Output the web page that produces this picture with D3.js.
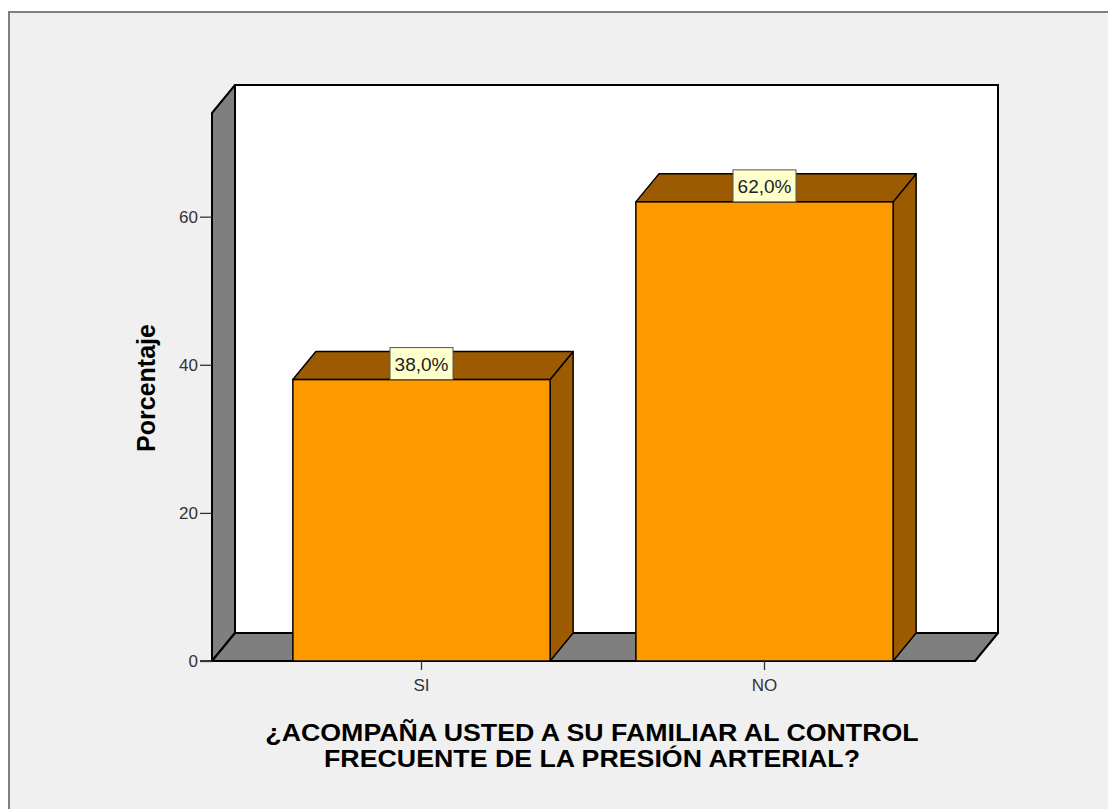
<!DOCTYPE html>
<html>
<head>
<meta charset="utf-8">
<script src="https://cdn.jsdelivr.net/npm/d3@7"></script>
<style>
  html, body { margin: 0; padding: 0; background: #ffffff; }
  svg { display: block; }
</style>
</head>
<body>
<svg id="chart" width="1108" height="809"></svg>
<script>
// Respuestas y porcentajes
const categories = ["SI", "NO"];
const percentages = [38.0, 62.0];
const yTicks = [0, 20, 40, 60];
const valueLabels = ["38,0%", "62,0%"];
const yTitle = "Porcentaje";
const xTitleLines = ["¿ACOMPAÑA USTED A SU FAMILIAR AL CONTROL", "FRECUENTE DE LA PRESIÓN ARTERIAL?"];

const svg = d3.select("#chart");
const W = 1108, H = 809;
const FONT = "Liberation Sans, Arial, sans-serif";

// depth offset of the 3D box
const DX = 23, DY = 28;

// frame
svg.append("rect").attr("x", 0).attr("y", 0).attr("width", W).attr("height", H).attr("fill", "#ffffff");
svg.append("rect").attr("x", 9).attr("y", 12).attr("width", W + 20).attr("height", H + 20)
  .attr("fill", "#f0f0f0").attr("stroke", "#7f7f7f").attr("stroke-width", 2);

const y = d3.scaleLinear().domain([0, 74]).range([661, 113]);
const x = d3.scaleBand().domain(categories).range([250, 936]).paddingInner(0.25).paddingOuter(0.125);

const left = 212, right = 975;
const y0 = y(0), yTop = y(74);

const wallFill = "#7f7f7f";
const stroke = "#000000";
const pts = arr => arr.map(p => p.join(",")).join(" ");

// back wall
svg.append("rect")
  .attr("x", left + DX).attr("y", yTop - DY)
  .attr("width", right - left).attr("height", y0 - yTop)
  .attr("fill", "#ffffff").attr("stroke", stroke).attr("stroke-width", 2);

// left wall
svg.append("polygon")
  .attr("points", pts([[left, yTop], [left + DX, yTop - DY], [left + DX, y0 - DY], [left, y0]]))
  .attr("fill", wallFill).attr("stroke", stroke).attr("stroke-width", 2).attr("stroke-linejoin", "round");

// floor
svg.append("polygon")
  .attr("points", pts([[left, y0], [left + DX, y0 - DY], [right + DX, y0 - DY], [right, y0]]))
  .attr("fill", wallFill).attr("stroke", stroke).attr("stroke-width", 2).attr("stroke-linejoin", "round");

// bars
const front = "#ff9900", dark = "#9c5b00";
const bars = svg.append("g").selectAll("g").data(categories).join("g");
bars.each(function(c, i) {
  const g = d3.select(this);
  const x0 = x(c), x1 = x(c) + x.bandwidth();
  const yt = y(percentages[i]);
  g.append("polygon")
    .attr("points", pts([[x1, yt], [x1 + DX, yt - DY], [x1 + DX, y0 - DY], [x1, y0]]))
    .attr("fill", dark).attr("stroke", stroke).attr("stroke-width", 1.5).attr("stroke-linejoin", "round");
  g.append("polygon")
    .attr("points", pts([[x0, yt], [x0 + DX, yt - DY], [x1 + DX, yt - DY], [x1, yt]]))
    .attr("fill", dark).attr("stroke", stroke).attr("stroke-width", 1.5).attr("stroke-linejoin", "round");
  g.append("rect")
    .attr("x", x0).attr("y", yt).attr("width", x1 - x0).attr("height", y0 - yt)
    .attr("fill", front).attr("stroke", stroke).attr("stroke-width", 1.5);
});

// value labels
bars.each(function(c, i) {
  const g = d3.select(this);
  const cx = x(c) + x.bandwidth() / 2;
  const yt = y(percentages[i]);
  const bw = 63, bh = 32;
  g.append("rect")
    .attr("x", cx - bw / 2).attr("y", yt - bh).attr("width", bw).attr("height", bh)
    .attr("fill", "#ffffcc").attr("stroke", "#555555").attr("stroke-width", 1);
  g.append("text")
    .attr("x", cx).attr("y", yt - bh / 2 + 7)
    .attr("text-anchor", "middle")
    .attr("font-family", FONT)
    .attr("font-size", 19).attr("fill", "#222222")
    .text(valueLabels[i]);
});

// y axis
const yAxis = d3.axisLeft(y).tickValues(yTicks).tickSize(12).tickPadding(2).tickFormat(d3.format("d"));
const yg = svg.append("g").attr("transform", `translate(${left},0)`).call(yAxis);
yg.select(".domain").attr("stroke", "#000").attr("stroke-width", 1.5).attr("d", `M-12,${y0}H0V${yTop}`);
yg.selectAll(".tick line").attr("stroke", "#333").attr("stroke-width", 1.3);
yg.selectAll(".tick text").attr("font-family", FONT).attr("font-size", 17).attr("fill", "#333");

// x axis
const xAxis = d3.axisBottom(x).tickSize(9).tickPadding(9);
const xg = svg.append("g").attr("transform", `translate(0,${y0})`).call(xAxis);
xg.select(".domain").remove();
xg.selectAll(".tick line").attr("stroke", "#333").attr("stroke-width", 1.3);
xg.selectAll(".tick text").attr("font-family", FONT).attr("font-size", 17).attr("fill", "#333");

// axis titles
svg.append("text")
  .attr("transform", `translate(155,388) rotate(-90)`)
  .attr("text-anchor", "middle")
  .attr("font-family", FONT)
  .attr("font-weight", "bold").attr("font-size", 25).attr("fill", "#000")
  .text(yTitle);

svg.append("g")
  .attr("transform", "translate(592,0) scale(1.115,1)")
  .selectAll("text").data(xTitleLines).join("text")
  .attr("x", 0).attr("y", (d, i) => 741 + i * 26)
  .attr("text-anchor", "middle")
  .attr("font-family", FONT)
  .attr("font-weight", "bold").attr("font-size", 24).attr("fill", "#000")
  .text(d => d);
</script>
</body>
</html>
